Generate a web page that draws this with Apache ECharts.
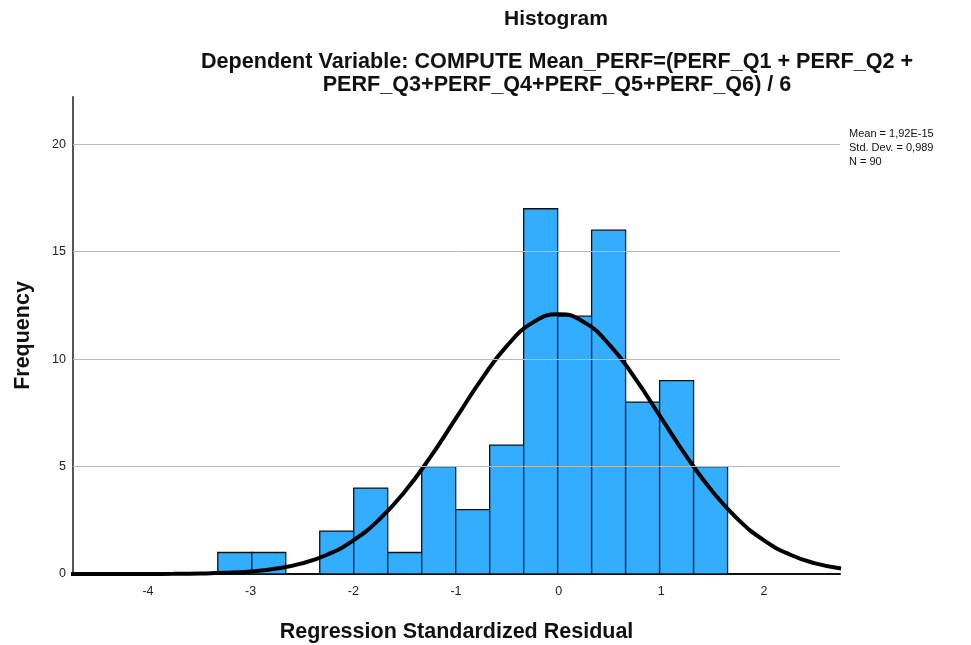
<!DOCTYPE html>
<html><head><meta charset="utf-8">
<script src="https://cdn.jsdelivr.net/npm/echarts@6/dist/echarts.min.js"></script>
<style>html,body{margin:0;padding:0;background:#fff;overflow:hidden}#c{width:971px;height:645px}</style>
</head><body><div id="c"></div>
<script>
// Histogram bins (left edges) and counts
const binStart = -3.32;
const binWidth = 0.331;
const counts = [1, 1, 0, 2, 4, 1, 5, 3, 6, 17, 12, 16, 8, 9, 5];
// Normal curve
const curveX = [-4.75,-4.5,-4.25,-4,-3.75,-3.5,-3.25,-3,-2.75,-2.5,-2.25,-2,-1.75,-1.5,-1.25,-1,-0.75,-0.5,-0.25,0,0.25,0.5,0.75,1,1.25,1.5,1.75,2,2.25,2.5,2.75];
const curveY = [0.0001,0.0004,0.0012,0.0034,0.0091,0.023,0.055,0.121,0.253,0.495,0.909,1.564,2.527,3.828,5.439,7.252,9.069,10.64,11.71,12.09,11.71,10.64,9.069,7.252,5.439,3.828,2.527,1.564,0.909,0.495,0.253];
const yTicks = [0, 5, 10, 15, 20];
const gridValues = [5, 10, 15, 20];
const xTicks = [-4, -3, -2, -1, 0, 1, 2];
const stats = ['Mean = 1,92E-15', 'Std. Dev. = 0,989', 'N = 90'];

const barData = counts.map((c, i) => [binStart + i * binWidth, binStart + (i + 1) * binWidth, c]).filter(d => d[2] > 0);
const font = 'Liberation Sans, Arial, sans-serif';
const chart = echarts.init(document.getElementById('c'));
chart.setOption({
  animation: false,
  title: [
    {text: 'Histogram', left: 551, top: 4, textAlign: 'center',
     textStyle: {fontFamily: font, fontSize: 21, fontWeight: 'bold', color: '#111'}},
    {text: 'Dependent Variable: COMPUTE Mean_PERF=(PERF_Q1 + PERF_Q2 +\nPERF_Q3+PERF_Q4+PERF_Q5+PERF_Q6) / 6', left: 552, top: 45, textAlign: 'center',
     textStyle: {fontFamily: font, fontSize: 21.6, fontWeight: 'bold', color: '#111', lineHeight: 23.5}},
    {text: stats.join('\n'), left: 844, top: 122,
     textStyle: {fontFamily: font, fontSize: 11, fontWeight: 'normal', color: '#111', lineHeight: 14}}
  ],
  grid: {left: 73, right: 131, top: 97, bottom: 71, containLabel: false, outerBoundsMode: 'none'},
  xAxis: {
    type: 'value', min: -4.73, max: 2.74, interval: 1,
    name: 'Regression Standardized Residual', nameLocation: 'middle', nameGap: 47,
    nameTextStyle: {fontFamily: font, fontSize: 21.5, fontWeight: 'bold', color: '#111'},
    axisLine: {show: true, onZero: false, lineStyle: {color: '#111', width: 2}},
    axisTick: {show: false},
    splitLine: {show: false},
    axisLabel: {fontFamily: font, fontSize: 12.5, color: '#222', margin: 11,
      customValues: xTicks, formatter: v => String(v)}
  },
  yAxis: {
    type: 'value', min: 0, max: 22.2, interval: 5,
    name: 'Frequency', nameLocation: 'middle', nameGap: 39, nameRotate: 90,
    nameTextStyle: {fontFamily: font, fontSize: 21.5, fontWeight: 'bold', color: '#111'},
    axisLine: {show: true, onZero: false, lineStyle: {color: '#555', width: 2}},
    axisTick: {show: false},
    splitLine: {show: false},
    axisLabel: {fontFamily: font, fontSize: 12.5, color: '#222', margin: 7,
      customValues: yTicks, formatter: v => String(v)}
  },
  series: [
    {
      type: 'line', data: [], z: 1, silent: true,
      markLine: {silent: true, symbol: 'none', label: {show: false}, animation: false,
        lineStyle: {color: '#b8b8b8', width: 1, type: 'solid'},
        data: gridValues.map(v => ({yAxis: v}))}
    },
    {
      type: 'custom', data: barData, encode: {x: [0, 1], y: 2},
      renderItem: function (params, api) {
        const p0 = api.coord([api.value(0), api.value(2)]);
        const p1 = api.coord([api.value(1), 0]);
        return {type: 'rect', shape: {x: p0[0], y: p0[1], width: p1[0] - p0[0], height: p1[1] - p0[1]},
          style: {fill: '#33adff', stroke: '#111', lineWidth: 1.3}};
      }, z: 2
    },
    {
      type: 'line', data: curveX.map((x, i) => [x, curveY[i]]), smooth: true, showSymbol: false,
      lineStyle: {color: '#000', width: 4}, z: 3
    }
  ]
});
</script></body></html>
